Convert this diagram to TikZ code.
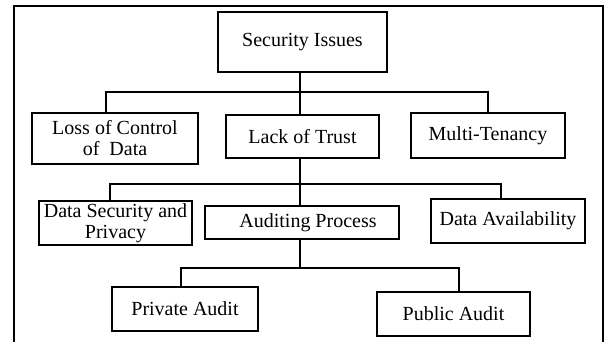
\documentclass[tikz,border=0pt]{standalone}
\usepackage{fontspec}
\setmainfont{Liberation Serif}
\usepackage{tikz}
\usetikzlibrary{calc}

\begin{document}
\begin{tikzpicture}[x=0.5pt,y=-0.5pt,
    issue/.style={draw,line width=0.8pt,inner sep=1pt,align=center,font=\fontsize{10}{10.5}\selectfont},
    link/.style={line width=0.9pt}]
              \useasboundingbox (0,0) rectangle (607,342);
              \draw[line width=0.9pt] (14,342) |- (603,6) -- (603,342);
              \node[issue,minimum width=84.5pt,minimum height=30pt](si)at(302.5,42){Security Issues};
              \node[issue,minimum width=83pt,minimum height=25.5pt](loss)at(115,138.5){Loss of Control\\of\ \ Data};
              \node[issue,minimum width=76.5pt,minimum height=21.5pt](trust)at(302.5,136.5){Lack of Trust};
              \node[issue,minimum width=77pt,minimum height=22.5pt](multi)at(488,135.5){Multi-Tenancy};
              \node[issue,minimum width=76.5pt,minimum height=22pt](datasec)at(115.5,223){Data Security and\\Privacy};
              \node[issue,minimum width=97pt,minimum height=16.5pt](audit)at(302,222.5){\hspace{6pt}Auditing Process};
              \node[issue,minimum width=77pt,minimum height=22pt](avail)at(508,221){Data Availability};
              \node[issue,minimum width=73pt,minimum height=22pt](private)at(185,309){Private Audit};
              \node[issue,minimum width=76.5pt,minimum height=22pt](public)at(453.5,314){Public Audit};
              \draw[link]([xshift=-1.25pt]si.south)--++(0,19)coordinate(b1);
              \draw[link]([xshift=-4.5pt]loss.north)|-(b1)-|(multi.north);
              \draw[link](b1)--(b1|-trust.north);
              \draw[link](b1|-trust.south)--++(0,25)coordinate(b2);
              \draw[link]([xshift=-2.75pt]datasec.north)|-(b2)-|([xshift=-3.5pt]avail.north);
              \draw[link](b2)--(b2|-audit.north);
              \draw[link](b2|-audit.south)--++(0,28)coordinate(b3);
              \draw[link]([xshift=-2pt]private.north)|-(b3)-|([xshift=2.75pt]public.north);
            \end{tikzpicture}
\end{document}
